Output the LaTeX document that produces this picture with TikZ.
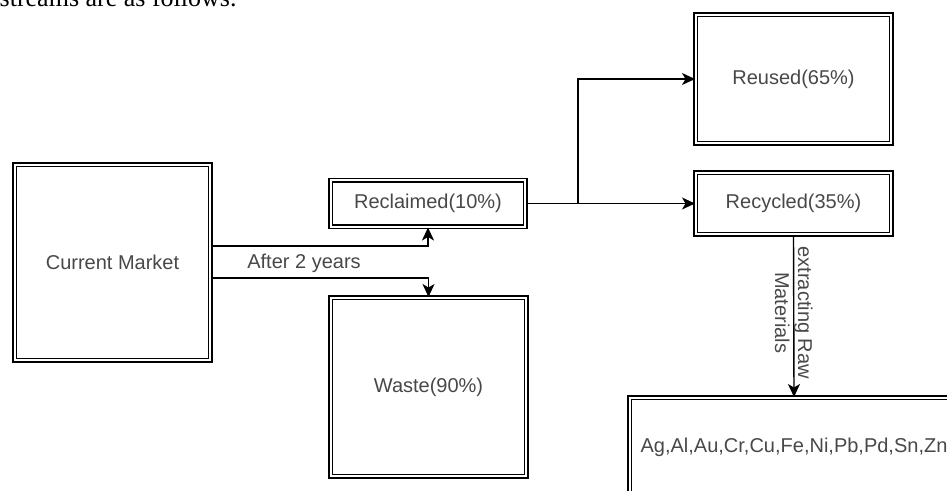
\documentclass[tikz,border=0pt]{standalone}
\usepackage{fontspec}
\setmainfont{Liberation Serif}
\setsansfont{Liberation Sans}
\usetikzlibrary{
    arrows.meta,
    calc
}
\definecolor{labelgray}{RGB}{72,72,72}
\newcommand{\flowfont}{\sffamily\fontsize{20}{23}\selectfont}
\tikzset{
  flowbox/.style={
    draw,
    double,
    double distance=2pt,
    line width=1.4pt,
    inner sep=0pt,
    text=labelgray,
    font=\flowfont
  },
  flowtext/.style={
    text=labelgray,
    font=\flowfont,
    inner sep=0pt
  }
}

\begin{document}
\begin{tikzpicture}[x=1pt,y=-1pt,line width=1.4pt,>={Stealth[length=13pt,width=12pt,inset=3.5pt]}]
    % Rahmen
    \useasboundingbox (0,0) rectangle (947,490);
    \clip (0,0) rectangle (947,490);

    % Text oberhalb (abgeschnitten)
    \node[anchor=base west, inner sep=0pt, font=\rmfamily\fontsize{26}{30}\selectfont]
        (intro) at (-1,6) {streams are as follows.};

    % Kästen
    \node[flowbox, minimum width=195.6pt, minimum height=195.6pt] (market) at (112.5,262.5) {Current Market};
    \node[flowbox, minimum width=194.6pt, minimum height=46.6pt] (reclaimed) at (428,203.5) {Reclaimed(10\%)};
    \node[flowbox, minimum width=195.6pt, minimum height=178.6pt] (waste) at (428.5,387) {Waste(90\%)};
    \node[flowbox, minimum width=195.6pt, minimum height=128.6pt] (reused) at (793.5,79) {Reused(65\%)};
    \node[flowbox, minimum width=195.6pt, minimum height=61.6pt] (recycled) at (793.5,203.5) {Recycled(35\%)};
    \node[flowbox, minimum width=328.6pt, minimum height=98.6pt] (metals) at (794,447) {Ag,Al,Au,Cr,Cu,Fe,Ni,Pb,Pd,Sn,Zn};

    % Verbindungen
    \draw[->] ([yshift=16.5pt]market.east) -| (reclaimed.south);
    \draw[->] ([yshift=-15.5pt]market.east) -| (waste.north);
    \node[flowtext] (after) at (304,263) {After 2 years};

    \coordinate (split) at (578,203.5);
    \draw[->] (reclaimed.east) -- (recycled.west);
    \draw[->] (split) |- (reused.west);

    \draw[->] (recycled.south) -- (metals.north)
        node[flowtext, pos=0.48, rotate=-90, align=center] (extract) {extracting Raw\\Materials};
\end{tikzpicture}
\end{document}
